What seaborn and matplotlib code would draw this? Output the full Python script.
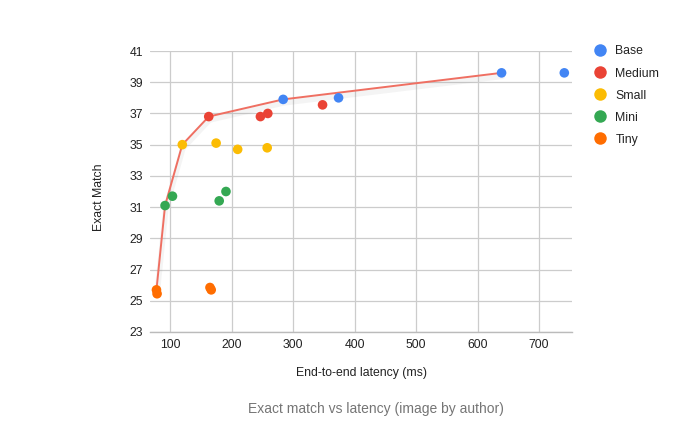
import matplotlib
matplotlib.use("Agg")
import matplotlib.pyplot as plt
import matplotlib.patheffects as pe
from matplotlib.lines import Line2D
import seaborn as sns
import pandas as pd

# ---- data ----
models = ["Base", "Medium", "Small", "Mini", "Tiny"]
colors = ["#4285F4", "#EA4335", "#FBBC04", "#34A853", "#FF6D01"]

base_latency = [284, 374, 639, 741]
base_em = [37.9, 38.0, 39.6, 39.6]
medium_latency = [163, 247, 259, 348]
medium_em = [36.8, 36.8, 37.0, 37.55]
small_latency = [120, 175, 210, 258]
small_em = [35.0, 35.1, 34.7, 34.8]
mini_latency = [92, 104, 180, 191]
mini_em = [31.1, 31.7, 31.4, 32.0]
tiny_latency = [78, 79, 165, 167]
tiny_em = [25.7, 25.45, 25.85, 25.7]

front_latency = [78, 92, 120, 163, 284, 639]
front_em = [25.7, 31.1, 35.0, 36.8, 37.9, 39.6]

x_ticks = [100, 200, 300, 400, 500, 600, 700]
y_ticks = [23, 25, 27, 29, 31, 33, 35, 37, 39, 41]

# ---- build table ----
rows = []
for name, lat, em in zip(models,
                         [base_latency, medium_latency, small_latency, mini_latency, tiny_latency],
                         [base_em, medium_em, small_em, mini_em, tiny_em]):
    for a, b in zip(lat, em):
        rows.append({"model": name, "latency": a, "em": b})
df = pd.DataFrame(rows)
front = pd.DataFrame({"latency": front_latency, "em": front_em})

sns.set_style("white")
plt.rcParams["font.family"] = ["Liberation Sans", "DejaVu Sans"]

W, H = 695, 428
fig = plt.figure(figsize=(W / 100, H / 100), dpi=100)
L, R, T, B = 150, 572, 51, 332
ax = fig.add_axes([L / W, 1 - B / H, (R - L) / W, (B - T) / H])

sns.lineplot(data=front, x="latency", y="em", sort=False, ax=ax, color="#EF6F62",
             lw=1.4, zorder=2,
             path_effects=[pe.SimpleLineShadow(offset=(0.5, -2.5), shadow_color="#777777",
                                               alpha=0.08, linewidth=4),
                           pe.Normal()])

sns.scatterplot(data=df, x="latency", y="em", hue="model", hue_order=models,
                palette=dict(zip(models, colors)), s=48, linewidth=0, ax=ax,
                legend=False, zorder=3)

ax.set_xlim(67.5, 753.5)
ax.set_ylim(23, 41)
ax.set_xticks(x_ticks)
ax.set_yticks(y_ticks)
ax.grid(True, color="#cccccc", lw=0.9)
ax.set_axisbelow(True)
for s in ["top", "right", "left"]:
    ax.spines[s].set_visible(False)
ax.spines["bottom"].set_color("#bbbbbb")
ax.spines["bottom"].set_linewidth(1.0)
ax.tick_params(axis="both", length=0, labelsize=8.8, colors="#222222")
ax.tick_params(axis="y", pad=5)
ax.tick_params(axis="x", pad=5)

ax.set_xlabel("End-to-end latency (ms)", fontsize=8.8, color="#222222")
ax.set_ylabel("Exact Match", fontsize=8.8, color="#222222")
ax.xaxis.set_label_coords(0.5, -0.123)
ax.yaxis.set_label_coords(-0.107, 0.481)

handles = [Line2D([], [], marker="o", ls="none", markersize=9, color=c, markeredgewidth=0)
           for c in colors]
leg = ax.legend(handles, models, loc="upper left",
                bbox_to_anchor=(594 / W, 1 - 45.5 / H), bbox_transform=fig.transFigure,
                frameon=False, fontsize=8.8, handlelength=1.0, handletextpad=0.75,
                labelspacing=0.82, borderaxespad=0, borderpad=0)
for t in leg.get_texts():
    t.set_color("#222222")

fig.text(375.5 / W, 1 - 409.3 / H, "Exact match vs latency (image by author)",
         ha="center", va="center", fontsize=10, color="#757575")

fig.savefig("out.png", dpi=100)
